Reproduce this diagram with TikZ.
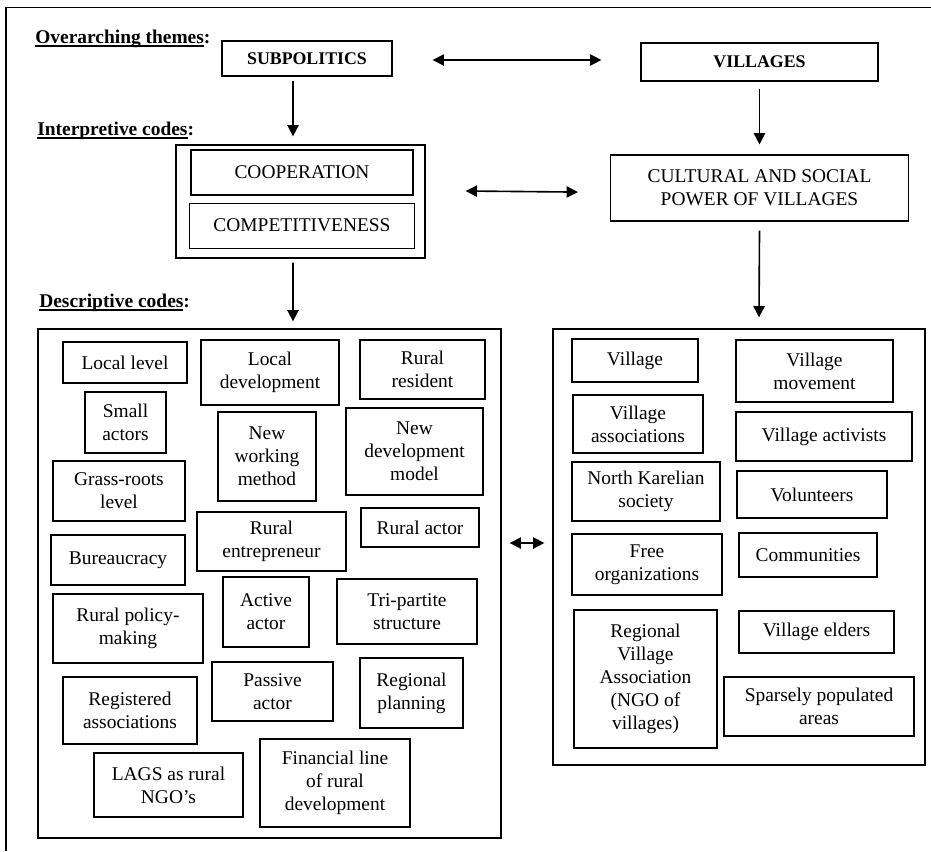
\documentclass[tikz,border=0pt]{standalone}
\usepackage{fontspec}
\setmainfont{Liberation Serif}
\usepackage{tikz}
\usetikzlibrary{arrows.meta, positioning}
\newcommand{\pxu}{0.0217cm}
\newcommand{\hdul}[1]{\setbox0\hbox{#1}\rlap{\rule[-2.2pt]{\wd0}{0.8pt}}\box0}

\begin{document}
\begin{tikzpicture}[
      x=0.0217cm, y=-0.0217cm,
      every node/.style={font=\fontsize{12}{14.2}\selectfont},
      wh/.style 2 args={minimum width={#1*\pxu}, minimum height={#2*\pxu}},
      code/.style={draw, line width=0.75pt, align=center, inner sep=0pt},
      group/.style={draw, line width=0.8pt, inner sep=0pt},
      theme/.style={draw, line width=0.8pt, inner sep=0pt,
                    font=\fontsize{11}{13}\selectfont\bfseries},
      head/.style={anchor=base west, inner sep=0pt,
                   font=\fontsize{12}{14}\selectfont\bfseries},
      arrow/.style={-{Triangle[length=7pt, width=7pt]}, line width=1pt},
      darrow/.style={{Triangle[length=7pt, width=7pt]}-{Triangle[length=7pt, width=7pt]},
                     line width=1pt},
    ]
    \useasboundingbox (0,0) rectangle (931,851);

    % Marco exterior
    \draw[line width=0.8pt] (931,7.5) -- (6,7.5) -- (6,851);

    % Overarching themes
    \node[head] (hover) at (35,43) {\hdul{Overarching themes}:};
    \node[theme, wh={170}{35}] (subpol) at (307,58.5) {SUBPOLITICS};
    \node[theme, wh={237}{38}] (vill) at (759.5,62) {VILLAGES};

    % Interpretive codes
    \node[head] (hinterp) at (37,135) {\hdul{Interpretive codes}:};
    \node[group, wh={249}{113}] (interp) at (300.5,201.5) {};
    \node[code, wh={222}{45}] (coop) at (302,172.5) {COOPERATION};
    \node[code, wh={225}{45}, below=0.15cm of coop] (comp) {COMPETITIVENESS};
    \node[code, wh={298}{66}, below=1.58cm of vill]
      (cult) {CULTURAL AND SOCIAL\\POWER OF VILLAGES};

    % Descriptive codes
    \node[head] (hdescr) at (39,307) {\hdul{Descriptive codes}:};
    \node[group, wh={463}{509}] (subgroup) at (269.5,583.5) {};
    \node[group, wh={372}{436}] (villgroup) at (739,547) {};

    % Codigos de subpolitica
    \node[code, wh={124}{41}] (loclev) at (125,362.5) {Local level};
    \node[code, wh={81}{61}] (small) at (125.5,422.5) {Small\\actors};
    \node[code, wh={132}{60}] (grass) at (119,491) {Grass-roots\\level};
    \node[code, wh={134}{50}] (bureau) at (118,560) {Bureaucracy};
    \node[code, wh={150}{69}] (policy) at (128,628.5) {Rural policy-\\making};
    \node[code, wh={134}{67}] (regassoc) at (130,710.5) {Registered\\associations};
    \node[code, wh={149}{64}] (lags) at (168.5,785) {LAGS as rural\\NGO's};
    \node[code, wh={138}{65}] (locdev) at (270,372.5) {Local\\development};
    \node[code, wh={98}{89}] (method) at (267,456.5) {New\\working\\method};
    \node[code, wh={149}{59}] (entre) at (271.5,541.5) {Rural\\entrepreneur};
    \node[code, wh={86}{70}] (active) at (266,612) {Active\\actor};
    \node[code, wh={121}{59}] (passive) at (272.5,691.5) {Passive\\actor};
    \node[code, wh={150}{88}] (finline) at (335,783) {Financial line\\of rural\\development};
    \node[code, wh={125}{59}] (resident) at (422.5,369.5) {Rural\\resident};
    \node[code, wh={137}{87}] (devmodel) at (414.5,451.5) {New\\development\\model};
    \node[code, wh={118}{39}] (ractor) at (420,527.5) {Rural actor};
    \node[code, wh={140}{65}] (tripart) at (407,611.5) {Tri-partite\\structure};
    \node[code, wh={103}{70}] (regplan) at (411.5,693) {Regional\\planning};

    % Codigos de aldeas
    \node[code, wh={126}{43}] (village) at (635,360.5) {Village};
    \node[code, wh={130}{58}] (vassoc) at (638,424) {Village\\associations};
    \node[code, wh={148}{59}] (karelia) at (646,491.5) {North Karelian\\society};
    \node[code, wh={150}{61}] (freeorg) at (647,564.5) {Free\\organizations};
    \node[code, wh={143}{138}] (regvill) at (645.5,679)
      {Regional\\Village\\Association\\(NGO of\\villages)};
    \node[code, wh={157}{62}] (vmove) at (814.5,371) {Village\\movement};
    \node[code, wh={176}{49}] (activists) at (824,436.5) {Village activists};
    \node[code, wh={150}{47}] (volunt) at (812,494.5) {Volunteers};
    \node[code, wh={138}{44}] (commun) at (808,555) {Communities};
    \node[code, wh={155}{42}] (elders) at (816.5,632) {Village elders};
    \node[code, wh={190}{59}] (sparse) at (819,706.5) {Sparsely populated\\areas};

    % Flechas verticales
    \draw[arrow] ([shift={(-14,4)}]subpol.south) -- ([shift={(-7.5,-8)}]interp.north);
    \draw[arrow] ([shift={(-7.5,4)}]interp.south) -- ([shift={(23.5,-7)}]subgroup.north);
    \draw[arrow] ([shift={(0,7)}]vill.south) -- ([shift={(0,-10)}]cult.north);
    \draw[arrow] ([shift={(0,9)}]cult.south) -- ([shift={(20,-11)}]villgroup.north);

    % Flechas dobles
    \draw[darrow] ([shift={(40,1.5)}]subpol.east) -- ([shift={(-39,-2)}]vill.west);
    \draw[darrow] ([shift={(40,-10.5)}]interp.east) -- ([shift={(-32,4)}]cult.west);
    \draw[darrow] ([shift={(8,-40.5)}]subgroup.east) -- ([shift={(-8,-4)}]villgroup.west);

  \end{tikzpicture}
\end{document}
